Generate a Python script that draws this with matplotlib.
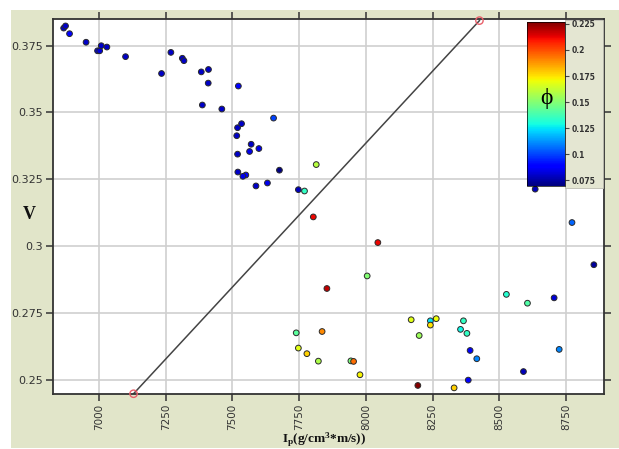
import matplotlib
matplotlib.use("Agg")
import matplotlib.pyplot as plt
from matplotlib.patches import Rectangle
import numpy as np

# ---- data ----
ip = [6867, 6874, 6889, 6951, 6994, 7002, 7008, 7029, 7099, 7234, 7269, 7312, 7318,
      7383, 7410, 7409, 7387, 7460, 7522, 7519, 7534, 7516, 7570, 7564, 7599, 7519,
      7520, 7550, 7539, 7588, 7631, 7676, 7654, 7747, 7770, 7814, 7803,
      8635, 8773,
      7739, 7747, 7779, 7822, 8045, 8005, 7854, 7836, 7944, 7954, 7978,
      8170, 8200, 8242, 8264, 8242, 8195, 8331, 8366, 8355, 8379, 8391, 8416, 8384,
      8527, 8606, 8706, 8855, 8725, 8591]
v = [0.3816, 0.3824, 0.3795, 0.3763, 0.3731, 0.3731, 0.3750, 0.3745, 0.3709, 0.3646,
     0.3725, 0.3703, 0.3694, 0.3652, 0.3661, 0.3610, 0.3528, 0.3513, 0.3599, 0.3443,
     0.3458, 0.3413, 0.3381, 0.3354, 0.3365, 0.3344, 0.3277, 0.3266, 0.3261, 0.3225,
     0.3236, 0.3284, 0.3479, 0.3211, 0.3206, 0.3305, 0.3109,
     0.3213, 0.3088,
     0.2675, 0.2618, 0.2597, 0.2569, 0.3013, 0.2888, 0.2841, 0.2680, 0.2570, 0.2568,
     0.2518, 0.2724, 0.2665, 0.2720, 0.2728, 0.2704, 0.2478, 0.2469, 0.2720, 0.2688,
     0.2673, 0.2609, 0.2578, 0.2498, 0.2819, 0.2786, 0.2806, 0.2930, 0.2613, 0.2530]
phi = [0.080, 0.080, 0.090, 0.080, 0.082, 0.082, 0.080, 0.080, 0.080, 0.080,
       0.080, 0.080, 0.080, 0.080, 0.080, 0.080, 0.080, 0.080, 0.088, 0.080,
       0.080, 0.080, 0.080, 0.085, 0.085, 0.080, 0.080, 0.088, 0.085, 0.080,
       0.085, 0.071, 0.100, 0.078, 0.135, 0.160, 0.212,
       0.078, 0.105,
       0.142, 0.168, 0.178, 0.158, 0.212, 0.150, 0.218, 0.190, 0.148, 0.195,
       0.172, 0.168, 0.155, 0.125, 0.170, 0.175, 0.226, 0.178, 0.135, 0.128,
       0.135, 0.088, 0.110, 0.088, 0.132, 0.140, 0.082, 0.074, 0.110, 0.078]
line_x = [7129, 8426]
line_y = [0.2447, 0.3844]
xticks = [7000, 7250, 7500, 7750, 8000, 8250, 8500, 8750]
yticks = [0.25, 0.275, 0.3, 0.325, 0.35, 0.375]
ytick_labels = ["0.25", "0.275", "0.3", "0.325", "0.35", "0.375"]
cb_ticks = [0.075, 0.1, 0.125, 0.15, 0.175, 0.2, 0.225]
cb_labels = ["0.075", "0.1", "0.125", "0.15", "0.175", "0.2", "0.225"]

W, H = 619, 449
fig = plt.figure(figsize=(W / 100, H / 100), dpi=100, facecolor="white")

def fx(px):
    return px / W

def fy(py):
    return 1 - py / H

bg = "#e1e5c9"
fig.patches.append(Rectangle((fx(11), fy(448)), 1 - fx(11), fy(10) - fy(448),
                             transform=fig.transFigure, facecolor=bg,
                             edgecolor="none", zorder=-10))

ax = fig.add_axes([fx(53), fy(394), fx(604) - fx(53), fy(19) - fy(394)])
ax.set_facecolor("white")
ax.set_xlim(6827, 8893)
ax.set_ylim(0.2446, 0.385)
ax.grid(True, color="#cfcfcf", linewidth=1.2, zorder=0)
ax.set_axisbelow(True)

ax.plot(line_x, line_y, color="#444444", linewidth=1.1, zorder=2)
ax.scatter(line_x, line_y, s=28, facecolors="none", edgecolors="#e8606a",
           linewidths=1.0, zorder=3, clip_on=False)

vmin, vmax = 0.070, 0.227
sc = ax.scatter(ip, v, c=phi, cmap="jet", vmin=vmin, vmax=vmax, s=17,
                edgecolors="#2a2a2a", linewidths=0.7, zorder=4)

ax.set_xticks(xticks)
ax.set_xticklabels([str(t) for t in xticks], rotation=90, fontsize=7.5, color="#333333")
ax.set_yticks(yticks)
ax.set_yticklabels(ytick_labels, fontsize=8, color="#333333")
ax.tick_params(axis="both", direction="out", length=5, width=1.1, color="#333333",
               top=True, right=True, labeltop=False, labelright=False, pad=2)
for s in ax.spines.values():
    s.set_color("#333333")
    s.set_linewidth(1.3)

# colorbar label background box
fig.patches.append(Rectangle((fx(565), fy(188)), fx(603) - fx(565), fy(20) - fy(188),
                             transform=fig.transFigure, facecolor="#e4e6d2",
                             edgecolor="#bcbcb0", linewidth=0.6, zorder=2))

cax = fig.add_axes([fx(527), fy(185.7), fx(565) - fx(527), fy(21.7) - fy(185.7)], zorder=5)
cb = fig.colorbar(sc, cax=cax)
cb.set_ticks(cb_ticks)
cb.set_ticklabels(cb_labels)
cb.outline.set_linewidth(0.5)
cax.tick_params(labelsize=5.5, length=3, width=0.8, color="#444444",
                labelcolor="#333333", pad=1.5)
for lbl in cax.get_yticklabels():
    lbl.set_fontweight("bold")
cax.text(0.5, 0.53, "ϕ", transform=cax.transAxes, ha="center", va="center",
         fontsize=17, family=["Liberation Serif", "DejaVu Serif"], color="black")

plt.rcParams["mathtext.fontset"] = "custom"
plt.rcParams["mathtext.rm"] = "Liberation Serif:bold"
plt.rcParams["mathtext.it"] = "Liberation Serif:bold"
plt.rcParams["mathtext.bf"] = "Liberation Serif:bold"

fig.text(fx(324), fy(439.5), r"I$_\mathregular{p}$(g/cm$^\mathregular{3}$*m/s))",
         ha="center", va="center", fontsize=9.5, fontweight="bold",
         family="Liberation Serif", color="#111111")
fig.text(fx(29), fy(215), "V", ha="center", va="center", fontsize=13,
         fontweight="bold", family="Liberation Serif", color="#111111")

fig.savefig("out.png", dpi=100, facecolor=fig.get_facecolor())
